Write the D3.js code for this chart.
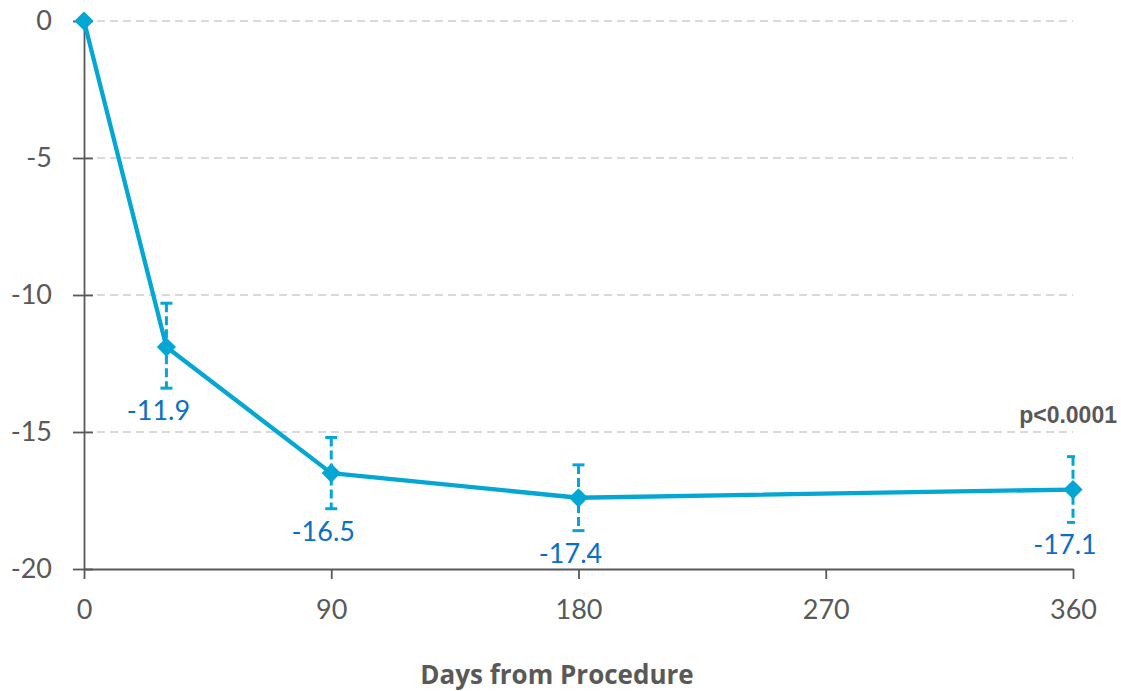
<!DOCTYPE html>
<html>
<head>
<meta charset="utf-8">
<script src="https://cdn.jsdelivr.net/npm/d3@7"></script>
<style>
  body { margin: 0; background: #fff; }
  svg { display: block; font-family: Lato, "Open Sans", sans-serif; }
  .axis text { fill: #595959; font-size: 27px; }
  .axis path, .axis line { stroke: #595959; stroke-width: 1.8; }
</style>
</head>
<body>
<div id="chart"></div>
<script>
// data
let days = [0, 30, 90, 180, 360];
let change = [0, -11.9, -16.5, -17.4, -17.1];
let errUpper = [null, -10.3, -15.2, -16.2, -15.9];
let errLower = [null, -13.4, -17.8, -18.6, -18.3];
let xTicks = [0, 90, 180, 270, 360];
let yTicks = [0, -5, -10, -15, -20];
let gridTicks = [0, -5, -10, -15];
let xTitle = 'Days from Procedure';
let pText = 'p<0.0001';

let width = 1121;
let height = 691;
let lineColor = '#04a6d3';
let labelColor = '#0a70c4';

let svg = d3.select('#chart')
    .append('svg')
    .attr('width', width)
    .attr('height', height);

let plotMargins = { top: 21, bottom: 122, left: 84, right: 48 };
let plotWidth = width - plotMargins.left - plotMargins.right;
let plotHeight = height - plotMargins.top - plotMargins.bottom;

let plotGroup = svg.append('g')
    .classed('plot', true)
    .attr('transform', `translate(${plotMargins.left},${plotMargins.top})`);

let xScale = d3.scaleLinear().domain([0, 360]).range([0, plotWidth]);
let yScale = d3.scaleLinear().domain([-20, 0]).range([plotHeight, 0]);

// gridlines
plotGroup.append('g')
    .selectAll('line')
    .data(gridTicks)
    .enter()
    .append('line')
    .attr('x1', 0)
    .attr('x2', plotWidth)
    .attr('y1', d => yScale(d))
    .attr('y2', d => yScale(d))
    .attr('stroke', '#d9d9d9')
    .attr('stroke-width', 2)
    .attr('stroke-dasharray', '8,5');

// plain hyphen for the minus sign, as in the original
let fmt = d => String(d);

// y axis
let yAxis = d3.axisLeft(yScale)
    .tickValues(yTicks)
    .tickSize(11)
    .tickSizeOuter(0)
    .tickPadding(21)
    .tickFormat(fmt);
let yAxisGroup = plotGroup.append('g')
    .classed('axis', true)
    .call(yAxis);
yAxisGroup.selectAll('.tick line').attr('x1', 9);
yAxisGroup.attr('font-family', null).attr('font-size', null);

// x axis
let xAxis = d3.axisBottom(xScale)
    .tickValues(xTicks)
    .tickSize(10)
    .tickSizeOuter(0)
    .tickPadding(21)
    .tickFormat(fmt);
let xAxisGroup = plotGroup.append('g')
    .classed('axis', true)
    .attr('transform', `translate(0,${plotHeight})`)
    .call(xAxis);
xAxisGroup.attr('font-family', null).attr('font-size', null);

// the mean line
let points = days.map((d, i) => ({
    day: d, value: change[i], hi: errUpper[i], lo: errLower[i]
}));

let lineGenerator = d3.line()
    .x(d => xScale(d.day))
    .y(d => yScale(d.value));

plotGroup.append('path')
    .datum(points)
    .attr('d', lineGenerator)
    .attr('fill', 'none')
    .attr('stroke', lineColor)
    .attr('stroke-width', 4.3)
    .attr('stroke-linejoin', 'round');

// error bars, clipped at the right edge of the plot
svg.append('defs').append('clipPath')
    .attr('id', 'plotClip')
    .append('rect')
    .attr('x', -20).attr('y', -20)
    .attr('width', plotWidth + 22)
    .attr('height', plotHeight + 40);

let errData = points.filter(d => d.hi !== null);
let errGroup = plotGroup.append('g')
    .attr('clip-path', 'url(#plotClip)')
    .selectAll('g')
    .data(errData)
    .enter()
    .append('g');
errGroup.append('line')
    .attr('x1', d => xScale(d.day))
    .attr('x2', d => xScale(d.day))
    .attr('y1', d => yScale(d.hi))
    .attr('y2', d => yScale(d.lo))
    .attr('stroke', lineColor)
    .attr('stroke-width', 3)
    .attr('stroke-dasharray', '9,4');
errGroup.selectAll('.cap')
    .data(d => [{ day: d.day, v: d.hi }, { day: d.day, v: d.lo }])
    .enter()
    .append('line')
    .classed('cap', true)
    .attr('x1', d => xScale(d.day) - 6)
    .attr('x2', d => xScale(d.day) + 6)
    .attr('y1', d => yScale(d.v))
    .attr('y2', d => yScale(d.v))
    .attr('stroke', lineColor)
    .attr('stroke-width', 3);

// diamond markers
let diamond = d3.symbol().type(d3.symbolSquare).size(185);
plotGroup.append('g')
    .selectAll('path')
    .data(points)
    .enter()
    .append('path')
    .attr('d', diamond)
    .attr('transform', d => `translate(${xScale(d.day)},${yScale(d.value)}) rotate(45)`)
    .attr('fill', lineColor);

// value labels
plotGroup.append('g')
    .selectAll('text')
    .data(errData)
    .enter()
    .append('text')
    .attr('x', d => xScale(d.day) - 8)
    .attr('y', d => yScale(d.lo) + 32)
    .attr('text-anchor', 'middle')
    .attr('fill', labelColor)
    .attr('font-size', 27)
    .text(d => d.value.toFixed(1));

// p value
svg.append('text')
    .attr('x', 1117)
    .attr('y', 423)
    .attr('text-anchor', 'end')
    .attr('font-family', '"Liberation Sans", Arial, sans-serif')
    .attr('font-weight', 'bold')
    .attr('font-size', 23)
    .attr('fill', '#595959')
    .text(pText);

// axis title
svg.append('text')
    .attr('x', 557)
    .attr('y', 684)
    .attr('text-anchor', 'middle')
    .attr('font-family', '"Open Sans", sans-serif')
    .attr('font-weight', 'bold')
    .attr('font-size', 26)
    .attr('fill', '#595959')
    .text(xTitle);
</script>
</body>
</html>
